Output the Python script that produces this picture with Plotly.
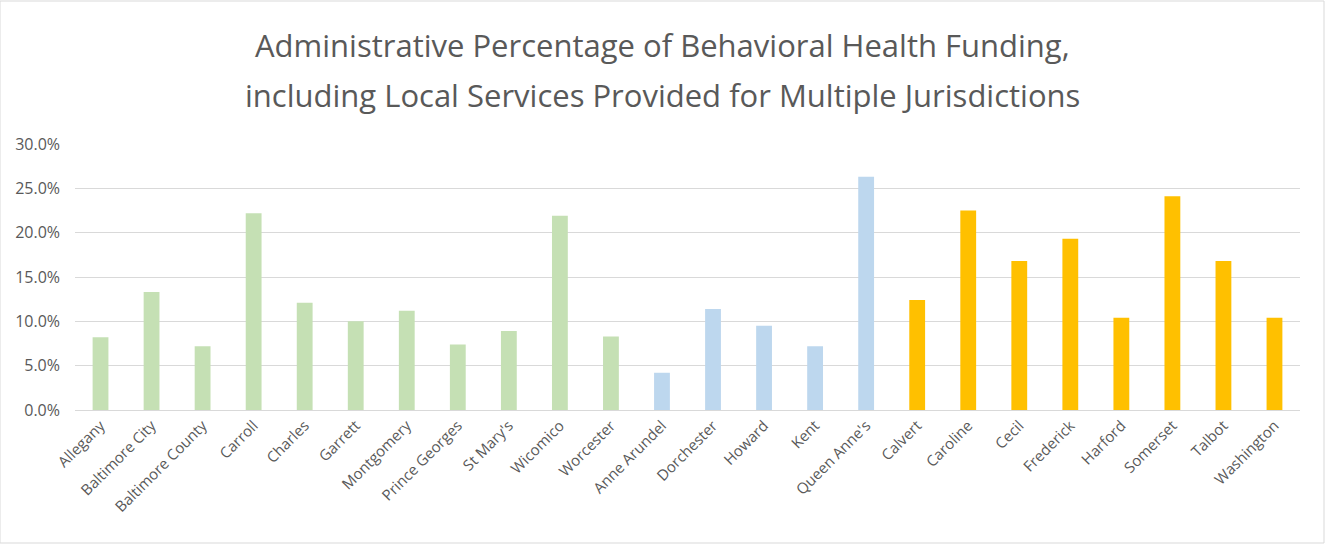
import plotly.graph_objects as go

categories = ["Allegany", "Baltimore City", "Baltimore County", "Carroll", "Charles",
              "Garrett", "Montgomery", "Prince Georges", "St Mary's", "Wicomico",
              "Worcester", "Anne Arundel", "Dorchester", "Howard", "Kent",
              "Queen Anne's", "Calvert", "Caroline", "Cecil", "Frederick",
              "Harford", "Somerset", "Talbot", "Washington"]
values = [8.2, 13.3, 7.2, 22.2, 12.1, 10.0, 11.2, 7.4, 8.9, 21.9,
          8.3, 4.2, 11.4, 9.5, 7.2, 26.3, 12.4, 22.5, 16.8, 19.3,
          10.4, 24.1, 16.8, 10.4]
groups = ["A"] * 11 + ["B"] * 5 + ["C"] * 8
group_colors = {"A": "#c5e0b4", "B": "#bdd7ee", "C": "#ffc000"}
yticks = [0, 5, 10, 15, 20, 25, 30]
title_lines = ["Administrative Percentage of Behavioral Health Funding,",
               "including Local Services Provided for Multiple Jurisdictions"]

fig = go.Figure()
fig.add_trace(go.Bar(
    x=categories, y=values,
    marker=dict(color=[group_colors[g] for g in groups], line=dict(width=0)),
    hoverinfo="x+y",
))

font_family = "'Open Sans', Lato, sans-serif"
fig.update_layout(
    width=1325, height=544,
    margin=dict(l=75, r=25, t=144, b=134),
    paper_bgcolor="white", plot_bgcolor="white",
    bargap=0.69,
    showlegend=False,
    font=dict(family=font_family, color="#595959", size=13),
    xaxis=dict(tickangle=-45, showgrid=False, showline=True, linecolor="#d9d9d9",
               linewidth=1, ticks="", tickfont=dict(size=15, color="#595959")),
    yaxis=dict(range=[0, 30], tickvals=yticks,
               ticktext=[f"{v:.1f}%" for v in yticks],
               showgrid=True, gridcolor="#d9d9d9", gridwidth=1,
               zeroline=False, showline=False, ticks="",
               ticklabelstandoff=14,
               tickfont=dict(size=16, color="#595959")),
    shapes=[dict(type="rect", xref="paper", yref="paper", x0=-75/1225, x1=1+24/1225,
                 y0=-133/266, y1=1+143/266, line=dict(color="#d9d9d9", width=1))],
)
for i, (line, ypix) in enumerate(zip(title_lines, [45, 95])):
    fig.add_annotation(text=line, xref="paper", yref="paper",
                       x=(662 - 75) / 1225, y=1 + (144 - ypix) / 266,
                       xanchor="center", yanchor="middle", showarrow=False,
                       font=dict(family=font_family, size=31, color="#595959"))

fig.write_html("out.html")
